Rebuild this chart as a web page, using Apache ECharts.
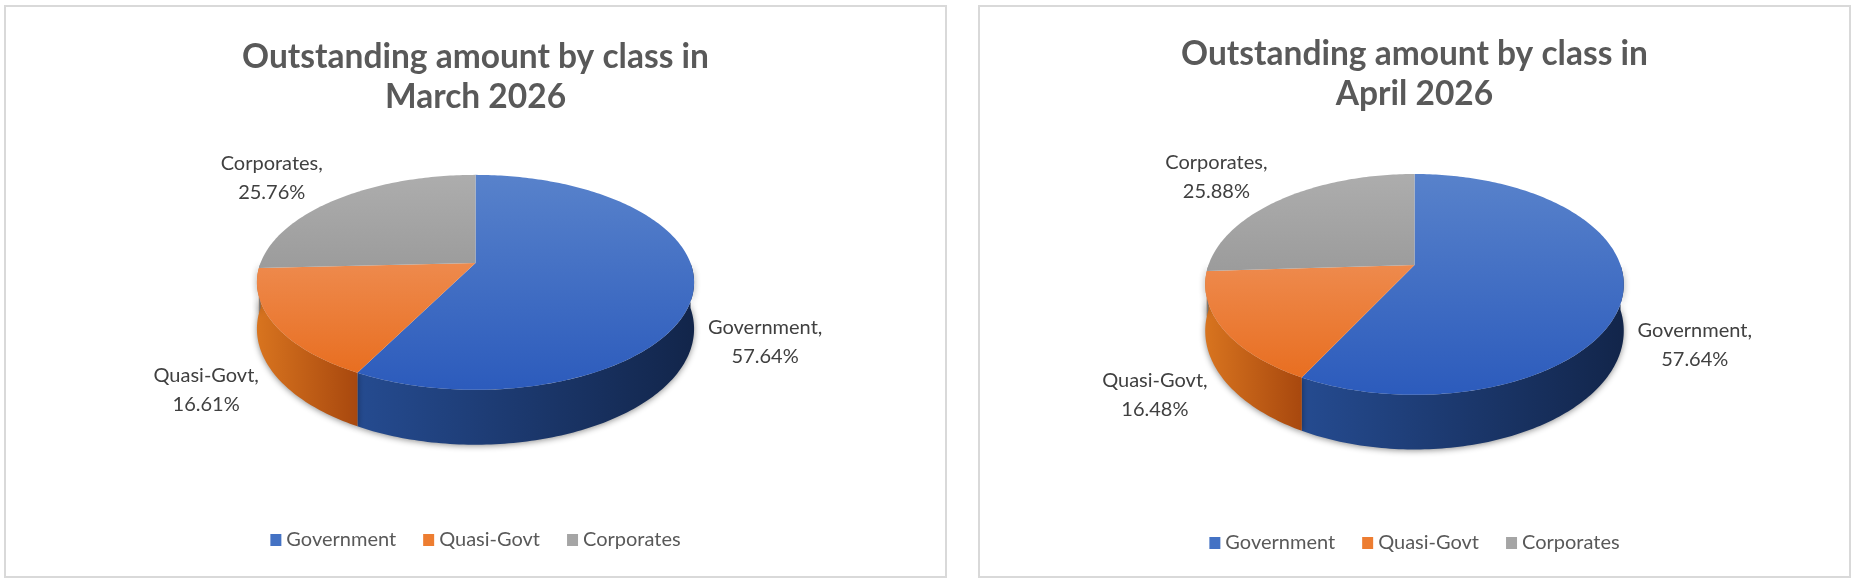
<!DOCTYPE html>
<html>
<head>
<meta charset="utf-8">
<script src="https://cdn.jsdelivr.net/npm/echarts@6/dist/echarts.min.js"></script>
<style>
  html, body { margin: 0; padding: 0; background: #fff; }
  body { width: 1857px; height: 583px; position: relative; overflow: hidden; }
  .panel { position: absolute; top: 5px; height: 569px; border: 2px solid #D9D9D9; background: #fff; }
</style>
</head>
<body>
<div id="chart_march" class="panel" style="left:4px;width:939px;"></div>
<div id="chart_april" class="panel" style="left:978px;width:869px;"></div>
<script>
// data
var categories = ['Government', 'Quasi-Govt', 'Corporates'];
var marchShares = [57.64, 16.61, 25.76];
var aprilShares = [57.64, 16.48, 25.88];
var marchTitle = 'Outstanding amount by class in\nMarch 2026';
var aprilTitle = 'Outstanding amount by class in\nApril 2026';

var colors = ['#4472C4', '#ED7D31', '#A5A5A5'];
var topStops = [['#5882CB', '#2C5BBC'], ['#F3A070', '#E76A1A'], ['#ADADAD', '#858585']];
var wallStops = [['#254B90', '#12254A'], ['#D8741F', '#A8480E'], ['#8A8A8A', '#6A6A6A']];
var FONT = 'Lato, "Open Sans", sans-serif';

// point on the tilted pie, theta clockwise from 12 o'clock, simple perspective
function pt(theta, g, down) {
    var r = theta * Math.PI / 180;
    var u = Math.sin(r), v = -Math.cos(r);
    var s = 1 - g.k * v;
    return [g.cx + g.rx * u / s, g.cy + g.ry * v / s + (down ? g.d / s : 0)];
}

function arc(a1, a2, g, down) {
    var pts = [];
    var n = Math.max(2, Math.ceil(Math.abs(a2 - a1)));
    for (var j = 0; j <= n; j++) {
        pts.push(pt(a1 + (a2 - a1) * j / n, g, down));
    }
    return pts;
}

function drawPie(domId, shares, title, lay) {
    var chart = echarts.init(document.getElementById(domId));
    var total = shares.reduce(function (a, b) { return a + b; }, 0);
    var starts = [];
    var acc = 0;
    shares.forEach(function (v) { starts.push(acc / total * 360); acc += v; });

    function renderSlice(i, api) {
        var g = {cx: api.getWidth() / 2, cy: lay.cy, rx: lay.rx, ry: lay.ry, k: lay.k, d: lay.d};
        var a1 = starts[i];
        var a2 = a1 + api.value(0) / total * 360;
        var children = [];
        var yTop = g.cy - g.ry / (1 + g.k), yBot = g.cy + g.ry / (1 - g.k);

        // top face
        var face = [[g.cx, g.cy]].concat(arc(a1, a2, g, false));
        children.push({
            type: 'polygon', z2: 10,
            shape: {points: face},
            style: {
                fill: new echarts.graphic.LinearGradient(0, yTop, 0, yBot,
                    [{offset: 0, color: topStops[i][0]}, {offset: 1, color: topStops[i][1]}], true),
                stroke: null
            }
        });

        // front wall
        var w1 = Math.max(a1, 90), w2 = Math.min(a2, 270);
        if (w2 > w1) {
            var upper = arc(w1, w2, g, false);
            var lower = arc(w1, w2, g, true).reverse();
            var xs = upper.map(function (p) { return p[0]; });
            var xmin = Math.min.apply(null, xs), xmax = Math.max.apply(null, xs);
            children.push({
                type: 'polygon', z2: 1,
                shape: {points: upper.concat(lower)},
                style: {
                    fill: new echarts.graphic.LinearGradient(xmin, 0, xmax, 0,
                        [{offset: 0, color: wallStops[i][0]}, {offset: 1, color: wallStops[i][1]}], true),
                    shadowBlur: 6, shadowColor: 'rgba(0,0,0,0.45)', shadowOffsetY: 1
                }
            });
        }

        // data label outside the rim
        var mid = (a1 + a2) / 2;
        var rimTop = pt(mid, g, false);
        var front = -Math.cos(mid * Math.PI / 180) > 0;
        var rim = front ? pt(mid, g, true) : rimTop;
        var dx = rimTop[0] - g.cx, dy = rimTop[1] - g.cy;
        var len = Math.sqrt(dx * dx + dy * dy) || 1;
        children.push({
            type: 'text', z2: 20,
            style: {
                text: categories[i] + ',\n' + api.value(0).toFixed(2) + '%',
                x: rim[0] + lay.lx * dx / len,
                y: rim[1] + lay.ly * dy / len,
                align: 'center', verticalAlign: 'middle',
                fontFamily: FONT, fontSize: 20, lineHeight: 29,
                fill: '#404040'
            }
        });
        return {type: 'group', children: children};
    }

    var option = {
        animation: false,
        title: {
            text: title,
            left: 'center',
            top: lay.titleTop,
            textStyle: {fontFamily: FONT, fontWeight: 'bold', fontSize: 33.5, lineHeight: 40, color: '#595959'}
        },
        legend: {
            data: categories,
            left: 'center',
            top: lay.legendTop,
            icon: 'rect',
            itemWidth: 11,
            itemHeight: 12,
            itemGap: 27,
            selectedMode: false,
            textStyle: {fontFamily: FONT, fontSize: 20, lineHeight: 24, color: '#595959'}
        },
        series: categories.map(function (name, i) {
            return {
                type: 'custom',
                name: name,
                coordinateSystem: 'none',
                itemStyle: {color: colors[i]},
                data: [[shares[i]]],
                renderItem: function (params, api) { return renderSlice(i, api); }
            };
        })
    };
    chart.setOption(option);
    return chart;
}

drawPie('chart_march', marchShares, marchTitle,
    {cy: 256, rx: 215, ry: 104, k: 0.18, d: 45, lx: 72, ly: 50, titleTop: 25, legendTop: 516});
drawPie('chart_april', aprilShares, aprilTitle,
    {cy: 258, rx: 206, ry: 107, k: 0.176, d: 45, lx: 72, ly: 50, titleTop: 22, legendTop: 519});
</script>
</body>
</html>
